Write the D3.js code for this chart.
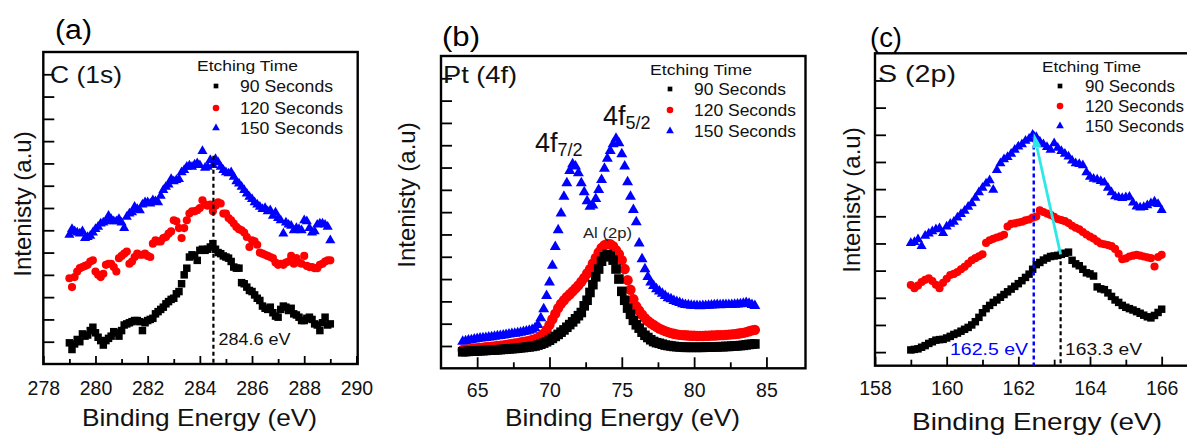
<!DOCTYPE html>
<html><head><meta charset="utf-8">
<script src="https://cdn.jsdelivr.net/npm/d3@7"></script>
<style>
body{margin:0;background:#fff;overflow:hidden}
svg{display:block;font-family:"Liberation Sans",Arial,Helvetica,sans-serif}
</style>
</head><body>
<svg id="chart" width="1187" height="436"></svg>
<script>
// ---------------- DATA ----------------
const seriesNames = ["90 Seconds", "120 Seconds", "150 Seconds"];
const legendTitle = "Etching Time";
const xTitle = "Binding Energy (eV)";
const yTitle = "Intenisty (a.u)";

// Panel (a) C (1s): energies 279.0 .. 289.0 step 0.1
const aStart = 279.0, aStep = 0.1;
const aBlack = [0.95,0.65,0.9,1.1,1.0,1.35,1.25,1.3,1.5,1.65,
  1.4,1.2,1.05,0.85,1.05,1.15,1.25,1.45,1.4,1.25,
  1.5,1.75,1.8,1.85,1.9,1.95,1.95,1.9,1.5,1.85,
  1.95,2.0,2.05,2.25,2.35,2.45,2.55,2.7,2.8,2.9,
  2.95,3.15,3.25,3.6,4.0,4.3,4.8,4.9,4.85,4.65,
  5.1,5.15,5.1,5.15,5.25,5.4,5.15,5.0,4.95,4.85,
  4.8,4.75,4.6,4.35,4.3,4.3,3.65,3.6,3.45,3.3,
  3.25,3.1,2.95,2.85,2.6,2.5,2.45,2.55,2.3,2.15,
  2.1,2.45,2.6,2.55,2.4,2.5,2.25,2.2,2.1,1.95,
  1.95,2.05,2.1,2.0,1.8,1.75,1.5,1.85,2.1,1.75,
  1.8];
const aRed = [3.85,3.45,3.9,4.15,4.3,4.35,4.4,4.45,4.6,4.65,
  4.15,4.0,3.9,4.05,4.45,4.5,4.5,4.35,4.15,4.75,
  4.85,4.95,5.05,4.5,4.6,4.8,4.95,4.9,4.9,4.95,
  4.85,4.8,5.4,5.55,5.5,5.5,5.65,5.7,5.85,5.95,
  6.45,6.4,6.1,5.65,6.1,6.45,6.75,6.85,6.85,6.9,
  7.0,7.35,7.15,7.1,7.15,6.85,7.1,7.25,7.2,6.75,
  6.75,6.55,6.45,6.3,6.15,6.05,6.0,5.9,5.7,5.25,
  5.55,5.5,5.35,5.0,4.95,4.9,4.85,4.8,4.75,4.55,
  4.45,4.5,4.45,4.55,4.6,4.85,4.5,4.75,4.55,4.5,
  4.85,4.4,4.35,4.35,4.3,4.3,4.45,4.5,4.6,4.65,
  4.65];
const aBlue = [5.8,6.05,5.95,5.9,5.85,5.95,5.65,5.7,5.75,5.9,
  6.05,6.15,6.3,6.35,6.4,6.65,6.5,6.4,6.4,6.5,
  6.35,6.1,6.6,6.75,6.8,7.05,6.95,6.9,7.15,7.25,
  7.25,7.2,7.35,7.3,7.25,7.55,7.8,7.95,8.05,8.3,
  8.2,8.25,8.3,8.6,8.7,8.85,8.9,8.85,8.95,9.0,
  8.92,9.55,8.8,8.85,9.15,8.92,9.2,9.05,8.85,8.7,
  8.6,8.55,8.6,8.4,8.2,8.1,7.95,7.8,7.65,7.5,
  7.4,7.25,7.15,7.05,6.95,7.0,6.85,6.9,6.65,6.8,
  6.55,6.45,5.85,6.35,6.25,6.2,6.0,6.1,6.05,6.0,
  6.45,6.4,6.1,5.9,5.95,6.25,6.3,6.3,6.25,6.15,
  5.55];
const aMajorTicks = [278, 280, 282, 284, 286, 288, 290];
const aMinorTicks = [279, 281, 283, 285, 287, 289];
const aYTicks = [1,2,3,4,5,6,7,8,9,10,11,12,13];
const aPeak = 284.52, aPeakTop = 9.35, aPeakLabel = "284.6 eV";

// Panel (b) Pt (4f): energies 64.0 .. 84.2 step 0.2
const bStart = 64.0, bStep = 0.2;
const bBlack = [0.74,0.75,0.76,0.77,0.77,0.78,0.79,0.79,0.8,0.81,
  0.81,0.82,0.83,0.84,0.85,0.86,0.87,0.88,0.89,0.9,
  0.92,0.93,0.95,0.96,0.98,1.0,1.04,1.08,1.13,1.19,
  1.26,1.34,1.43,1.52,1.62,1.72,1.84,1.96,2.08,2.22,
  2.36,2.5,2.8,3.05,3.4,3.75,4.1,4.45,4.8,5.0,
  5.1,5.02,4.85,4.45,4.0,3.45,3.05,2.7,2.42,2.15,
  1.95,1.8,1.62,1.48,1.38,1.28,1.2,1.15,1.12,1.08,
  1.04,1.02,1.0,0.98,0.97,0.96,0.95,0.94,0.94,0.94,
  0.94,0.94,0.94,0.94,0.95,0.95,0.95,0.96,0.96,0.97,
  0.97,0.98,0.98,0.99,1.0,1.01,1.02,1.03,1.05,1.07,1.08,1.09];
const bRed = [0.82,0.84,0.85,0.87,0.88,0.9,0.91,0.93,0.95,0.96,
  0.97,0.98,1.0,1.01,1.03,1.05,1.07,1.09,1.11,1.13,
  1.16,1.18,1.2,1.23,1.27,1.31,1.36,1.45,1.55,1.72,
  1.95,2.2,2.45,2.7,2.9,3.05,3.2,3.32,3.45,3.58,
  3.72,3.88,4.05,4.25,4.45,4.7,4.95,5.2,5.4,5.52,
  5.58,5.57,5.48,5.3,5.12,4.85,4.45,3.95,3.52,3.1,
  2.78,2.58,2.4,2.25,2.12,2.02,1.94,1.86,1.78,1.72,
  1.67,1.62,1.58,1.55,1.52,1.5,1.49,1.48,1.47,1.46,
  1.46,1.45,1.45,1.45,1.46,1.46,1.47,1.47,1.48,1.49,
  1.49,1.5,1.51,1.52,1.53,1.55,1.57,1.59,1.62,1.66,1.7,1.72];
const bBlue = [1.2,1.22,1.25,1.27,1.3,1.32,1.34,1.35,1.37,1.39,
  1.4,1.42,1.44,1.46,1.48,1.5,1.52,1.54,1.56,1.58,
  1.6,1.63,1.66,1.69,1.73,1.8,1.95,2.25,2.65,3.25,
  3.85,4.6,5.45,6.2,6.95,7.7,8.3,8.85,9.15,9.05,
  8.75,8.3,7.9,7.5,7.25,7.3,7.6,8.0,8.45,8.95,
  9.4,9.75,10.05,10.3,10.1,9.6,9.05,8.35,7.7,7.1,
  6.55,5.6,4.9,4.45,4.1,3.85,3.7,3.55,3.45,3.35,
  3.25,3.15,3.1,3.02,2.98,2.93,2.88,2.85,2.83,2.81,
  2.8,2.8,2.79,2.8,2.8,2.81,2.82,2.83,2.84,2.83,
  2.84,2.85,2.84,2.85,2.86,2.87,2.88,2.9,2.93,2.9,2.85,2.8];
const bMajorTicks = [65, 70, 75, 80, 85];
const bMinorTicks = [67.5, 72.5, 77.5, 82.5];
const bYTicks = [1,2,3,4,5,6,7,8,9,10,11,12,13];

// Panel (c) S (2p): energies 159.0 .. 166.0 step 0.1
const cStart = 159.0, cStep = 0.1;
const cBlack = [0.58,0.6,0.62,0.68,0.74,0.82,0.88,0.94,0.96,0.97,
  1.02,1.08,1.15,1.2,1.27,1.34,1.41,1.5,1.62,1.78,
  1.95,2.1,2.22,2.33,2.42,2.52,2.62,2.72,2.82,2.92,
  3.02,3.13,3.25,3.37,3.55,3.72,3.8,3.89,3.96,4.02,
  4.04,4.06,4.1,4.14,4.18,3.88,3.75,3.68,3.55,3.42,
  3.38,3.3,2.9,2.83,2.8,2.68,2.55,2.42,2.33,2.22,
  2.15,2.1,2.05,1.99,1.93,1.86,1.8,1.76,1.85,1.96,
  2.08];
const cRed = [2.97,2.85,2.95,3.08,3.16,3.22,3.12,2.98,2.85,3.05,
  3.2,3.34,3.38,3.45,3.55,3.64,3.76,3.88,3.96,4.03,
  4.1,4.52,4.62,4.67,4.72,4.76,4.82,5.12,5.22,5.24,
  5.27,5.3,5.35,5.38,5.45,5.49,5.72,5.66,5.6,5.55,
  5.48,5.4,5.36,5.32,5.25,5.15,5.08,5.02,4.92,4.83,
  4.75,4.68,4.58,4.5,4.47,4.44,4.4,4.3,4.12,3.92,
  3.95,4.02,4.05,4.08,4.05,4.02,3.99,3.96,3.65,4.0,
  4.08];
const cBlue = [4.51,4.55,4.65,4.4,4.78,4.86,4.95,5.02,5.06,4.88,
  5.12,5.22,5.3,5.45,5.58,5.7,5.85,5.98,6.18,6.38,
  6.55,6.7,6.82,6.47,7.2,7.45,7.6,7.68,7.8,7.95,
  8.07,8.15,8.28,8.35,8.5,8.42,8.25,8.15,8.05,7.95,
  8.19,8.02,7.9,7.8,7.7,7.55,7.45,7.42,7.38,7.12,
  6.95,6.88,6.85,6.8,6.74,6.55,6.38,6.23,6.2,6.17,
  6.2,6.22,6.0,5.86,5.82,5.84,5.9,5.98,6.04,5.95,
  5.73];
const cMajorTicks = [158, 160, 162, 164, 166];
const cMinorTicks = [159, 161, 163, 165];
const cYTicks = [0.5,1.5,2.5,3.5,4.5,5.5,6.5,7.5,8.5,9.5,10.5];
const cBluePeak = 162.43, cBluePeakTop = 8.62, cBluePeakLabel = "162.5 eV";
const cBlackPeak = 163.18, cBlackPeakTop = 4.1, cBlackPeakLabel = "163.3 eV";

// ---------------- DRAWING ----------------
const svg = d3.select("#chart");
const colors = ["#000000", "#ff0000", "#0000ff"];
const symbols = [d3.symbolSquare, d3.symbolCircle, d3.symbolTriangle];

function txt(g, s, x, y, size, width, o = {}) {
  const t = g.append("text").attr("x", x).attr("y", y)
    .attr("font-size", size).attr("fill", o.fill || "#000")
    .attr("text-anchor", o.anchor || "start").text(s);
  if (width) t.attr("textLength", width).attr("lengthAdjust", "spacingAndGlyphs");
  return t;
}

function drawPanel(p) {
  const g = svg.append("g");
  const x = d3.scaleLinear().domain(p.xDomain).range([p.left, p.right]);
  const y = d3.scaleLinear().domain(p.yDomain).range([p.bottom, p.top]);
  const energies = d3.range(p.series[0].length).map(i => p.start + i * p.step);

  // data markers (blue, red, black on top)
  [2, 1, 0].forEach(si => {
    g.append("g").selectAll("path").data(p.series[si]).join("path")
      .attr("transform", (d, i) => `translate(${x(energies[i])},${y(d)})`)
      .attr("d", d3.symbol(symbols[si], p.sizes[si])())
      .attr("fill", colors[si]);
  });

  // axes: major / minor x ticks, inward
  const xa = g.append("g").attr("transform", `translate(0,${p.bottom})`)
    .call(d3.axisBottom(x).tickValues(p.major).tickSize(-p.majorLen)
      .tickPadding(p.tickPad).tickFormat(d3.format("d")));
  xa.select(".domain").remove();
  xa.selectAll("line").attr("stroke-width", 1.8);
  xa.selectAll("text").attr("font-size", 19.5).attr("font-family", "Liberation Sans, Arial, sans-serif").attr("fill", "#111");
  const xm = g.append("g").attr("transform", `translate(0,${p.bottom})`)
    .call(d3.axisBottom(x).tickValues(p.minor).tickSize(-p.minorLen).tickFormat(""));
  xm.select(".domain").remove();
  xm.selectAll("line").attr("stroke-width", 1.8);
  const ya = g.append("g").attr("transform", `translate(${p.left},0)`)
    .call(d3.axisLeft(y).tickValues(p.yTicks).tickSize(-11).tickFormat(""));
  ya.select(".domain").remove();
  ya.selectAll("line").attr("stroke-width", 1.8);

  // frame
  g.append("rect").attr("x", p.left).attr("y", p.top)
    .attr("width", p.frameRight - p.left).attr("height", p.bottom - p.top)
    .attr("fill", "none").attr("stroke", "#000").attr("stroke-width", 2.4);

  // titles
  txt(g, p.letter, p.letterPos[0], p.letterPos[1], 27, p.letterPos[2]);
  txt(g, p.element, p.elemPos[0], p.elemPos[1], 24, p.elemPos[2], {fill: "#111"});
  txt(g, xTitle, p.xtPos[0], p.xtPos[1], p.xtPos[3], p.xtPos[2], {fill: "#111"});
  g.append("text").attr("transform", `translate(${p.ytPos[0]},${p.ytPos[1]}) rotate(-90)`)
    .attr("text-anchor", "middle").attr("font-size", 24).attr("fill", "#111").text(yTitle);

  // legend
  const L = p.legend;
  txt(g, legendTitle, L.tx, L.ty, 14.5, L.tw, {fill: "#111"});
  seriesNames.forEach((name, i) => {
    g.append("path").attr("transform", `translate(${L.mx},${L.rows[i] - 6})`)
      .attr("d", d3.symbol(symbols[i], [22, 34, 26][i])()).attr("fill", colors[i]);
    txt(g, name, L.lx, L.rows[i], 16.5, L.widths[i], {fill: "#111"});
  });
  return {g, x, y};
}

// Panel a
const A = drawPanel({
  xDomain: [278, 290.05], yDomain: [0, 14],
  left: 43.3, right: 357.7, frameRight: 357.7, top: 52, bottom: 364,
  start: aStart, step: aStep, series: [aBlack, aRed, aBlue], sizes: [56, 52, 44],
  major: aMajorTicks, minor: aMinorTicks, majorLen: 8, minorLen: 5, tickPad: 17.5,
  yTicks: aYTicks,
  letter: "(a)", letterPos: [55, 39, 37], element: "C (1s)", elemPos: [50, 83, 72],
  xtPos: [82, 425.7, 235, 24], ytPos: [31, 204],
  legend: {tx: 197, ty: 71, tw: 101, mx: 216, lx: 240, rows: [92, 114, 134], widths: [93, 103, 103]}
});
A.g.append("line")
  .attr("x1", A.x(aPeak)).attr("x2", A.x(aPeak)).attr("y1", A.y(aPeakTop)).attr("y2", A.y(0))
  .attr("stroke", "#000").attr("stroke-width", 2.2).attr("stroke-dasharray", "4,3");
txt(A.g, aPeakLabel, A.x(aPeak) + 5, 345, 17, 72, {fill: "#111"});

// Panel b
const B = drawPanel({
  xDomain: [62.5, 87.7], yDomain: [0, 14],
  left: 441, right: 805.5, frameRight: 805.5, top: 56, bottom: 368.3,
  start: bStart, step: bStep, series: [bBlack, bRed, bBlue], sizes: [92, 84, 52],
  major: bMajorTicks, minor: bMinorTicks, majorLen: 11, minorLen: 6, tickPad: 15,
  yTicks: bYTicks,
  letter: "(b)", letterPos: [442, 46, 38], element: "Pt (4f)", elemPos: [443, 83, 74],
  xtPos: [505, 425.7, 235, 24], ytPos: [415, 195],
  legend: {tx: 650, ty: 75, tw: 102, mx: 670, lx: 694, rows: [95, 116, 137], widths: [92, 102, 102]}
});
const p72 = B.g.append("text").attr("x", 535).attr("y", 151.5).attr("font-size", 27).attr("fill", "#111");
p72.append("tspan").text("4f");
p72.append("tspan").attr("font-size", 18).attr("dy", 4).text("7/2");
const p52 = B.g.append("text").attr("x", 603).attr("y", 125).attr("font-size", 27).attr("fill", "#111");
p52.append("tspan").text("4f");
p52.append("tspan").attr("font-size", 18).attr("dy", 4).text("5/2");
txt(B.g, "Al (2p)", 583, 237.5, 14, 49, {fill: "#222"});

// Panel c
const C = drawPanel({
  xDomain: [158, 167], yDomain: [0, 11.5],
  left: 875, right: 1197.5, frameRight: 1197.5, top: 53.3, bottom: 365.7,
  start: cStart, step: cStep, series: [cBlack, cRed, cBlue], sizes: [56, 52, 44],
  major: cMajorTicks, minor: cMinorTicks, majorLen: 9, minorLen: 6, tickPad: 15.8,
  yTicks: cYTicks,
  letter: "(c)", letterPos: [870, 47, 32], element: "S (2p)", elemPos: [878, 82, 78],
  xtPos: [912, 429.5, 250, 24.5], ytPos: [860, 200],
  legend: {tx: 1042, ty: 72, tw: 99, mx: 1060, lx: 1085, rows: [92, 112, 132], widths: [90, 99, 99]}
});
C.g.append("line")
  .attr("x1", C.x(cBluePeak)).attr("x2", C.x(cBluePeak)).attr("y1", C.y(cBluePeakTop)).attr("y2", C.y(0))
  .attr("stroke", "#0000ff").attr("stroke-width", 2.4).attr("stroke-dasharray", "4,3");
C.g.append("line")
  .attr("x1", C.x(cBlackPeak)).attr("x2", C.x(cBlackPeak)).attr("y1", C.y(cBlackPeakTop)).attr("y2", C.y(0))
  .attr("stroke", "#000").attr("stroke-width", 2.2).attr("stroke-dasharray", "4,3");
// cyan arrow from black peak to blue peak
{
  const x0 = C.x(cBlackPeak), y0 = C.y(cBlackPeakTop), x1 = C.x(cBluePeak), y1 = C.y(cBluePeakTop - 0.05);
  const ang = Math.atan2(y1 - y0, x1 - x0), hl = 15, hw = 4.5;
  const bx = x1 - hl * Math.cos(ang), by = y1 - hl * Math.sin(ang);
  C.g.append("line").attr("x1", x0).attr("y1", y0).attr("x2", bx).attr("y2", by)
    .attr("stroke", "#2ee8e8").attr("stroke-width", 2.8);
  C.g.append("path").attr("d", `M${x1},${y1}L${bx + hw * Math.sin(ang)},${by - hw * Math.cos(ang)}L${bx - hw * Math.sin(ang)},${by + hw * Math.cos(ang)}Z`)
    .attr("fill", "#2ee8e8");
}
txt(C.g, cBluePeakLabel, 950, 355, 17, 78, {fill: "#0000ff"});
txt(C.g, cBlackPeakLabel, 1065, 355, 17, 77, {fill: "#111"});
</script>
</body></html>
